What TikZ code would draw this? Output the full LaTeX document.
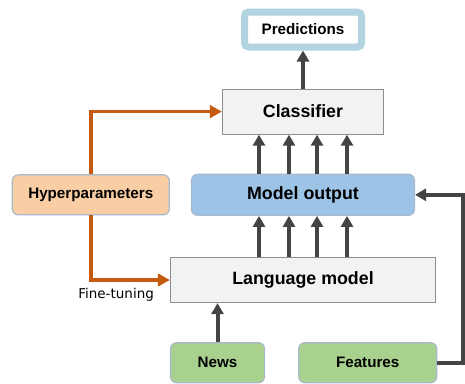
\documentclass[tikz,border=0pt]{standalone}
\usepackage{fontspec}
\setmainfont{Liberation Sans}
\newfontfamily\tunefont{DejaVu Sans}
\usepackage{tikz}
\usetikzlibrary{positioning,arrows.meta}
\definecolor{lmGray}{HTML}{F2F2F2}
\definecolor{lmEdge}{HTML}{8E8E8E}
\definecolor{outBlue}{HTML}{9DC3E6}
\definecolor{softEdge}{HTML}{A9B9CC}
\definecolor{hpPeach}{HTML}{F9CEA4}
\definecolor{inGreen}{HTML}{A9D18E}
\definecolor{predBlue}{HTML}{B2D3E0}
\definecolor{arrGray}{HTML}{444444}
\definecolor{tuneOrange}{HTML}{C55A11}

\begin{document}
\begin{tikzpicture}[
  every node/.style={transform shape=false},
  box/.style={
    rectangle, inner sep=0pt, align=center, text=black,
    font=\bfseries\fontsize{17.8}{20}\selectfont
  },
  % square grey boxes for the two models, rounded ones for data
  sq/.style={box, draw=lmEdge, fill=lmGray, line width=1.2pt},
  rnd/.style={box, draw=softEdge, line width=1.2pt, rounded corners=6pt},
  small/.style={font=\bfseries\fontsize{15.2}{18}\selectfont},
  flow/.style={
    -{Triangle[length=11pt,width=12pt]},
    draw=arrGray, line width=4pt
  },
  tune/.style={
    -{Triangle[length=12pt,width=12.5pt]},
    draw=tuneOrange, line width=3.6pt
  },
  lbl/.style={font=\tunefont\fontsize{13.5}{16}\selectfont, text=black}
]
\useasboundingbox (0,0) rectangle (465pt,-383pt);

% ---- boxes ----------------------------------------------------------------
\node[sq, minimum width=265pt, minimum height=45pt] (lm) at (303pt,-280pt)
  {Language model};

\node[rnd, fill=outBlue, minimum width=223pt, minimum height=41pt,
  above=41pt of lm] (mout) {Model output};

\node[sq, minimum width=161pt, minimum height=45pt,
  above=39pt of mout] (clf) {Classifier};

\node[box, small, draw=predBlue, fill=white, line width=7pt, rounded corners=4pt,
  minimum width=117pt, minimum height=35pt,
  above=38pt of clf] (pred) {Predictions};

\node[rnd, small, fill=hpPeach, minimum width=157pt, minimum height=40pt,
  left=21pt of mout] (hyper) {Hyperparameters};

\node[rnd, small, fill=inGreen, minimum width=94pt, minimum height=40pt,
  below right=39pt and 0pt of lm.south west] (news) {News};

\node[rnd, small, fill=inGreen, minimum width=138pt, minimum height=40pt,
  right=33pt of news] (feat) {Features};

% ---- arrows ---------------------------------------------------------------
\draw[flow] (clf) -- (pred);
\foreach \dx in {-44,-14,14,44} {
  \draw[flow] ([xshift=\dx pt]mout.north) -- ([xshift=\dx pt]clf.south);
  \draw[flow] ([xshift=\dx pt]lm.north) -- ([xshift=\dx pt]mout.south);
}
\draw[flow] (news) -- (news |- lm.south);
\draw[flow] (feat.east) -- ++(26pt,0) |- (mout.east);

\draw[tune] (hyper.north) |- (clf.west);
\draw[tune] (hyper.south) |- node[lbl, pos=0.66, below=3pt] {Fine-tuning} (lm.west);

\end{tikzpicture}
\end{document}
